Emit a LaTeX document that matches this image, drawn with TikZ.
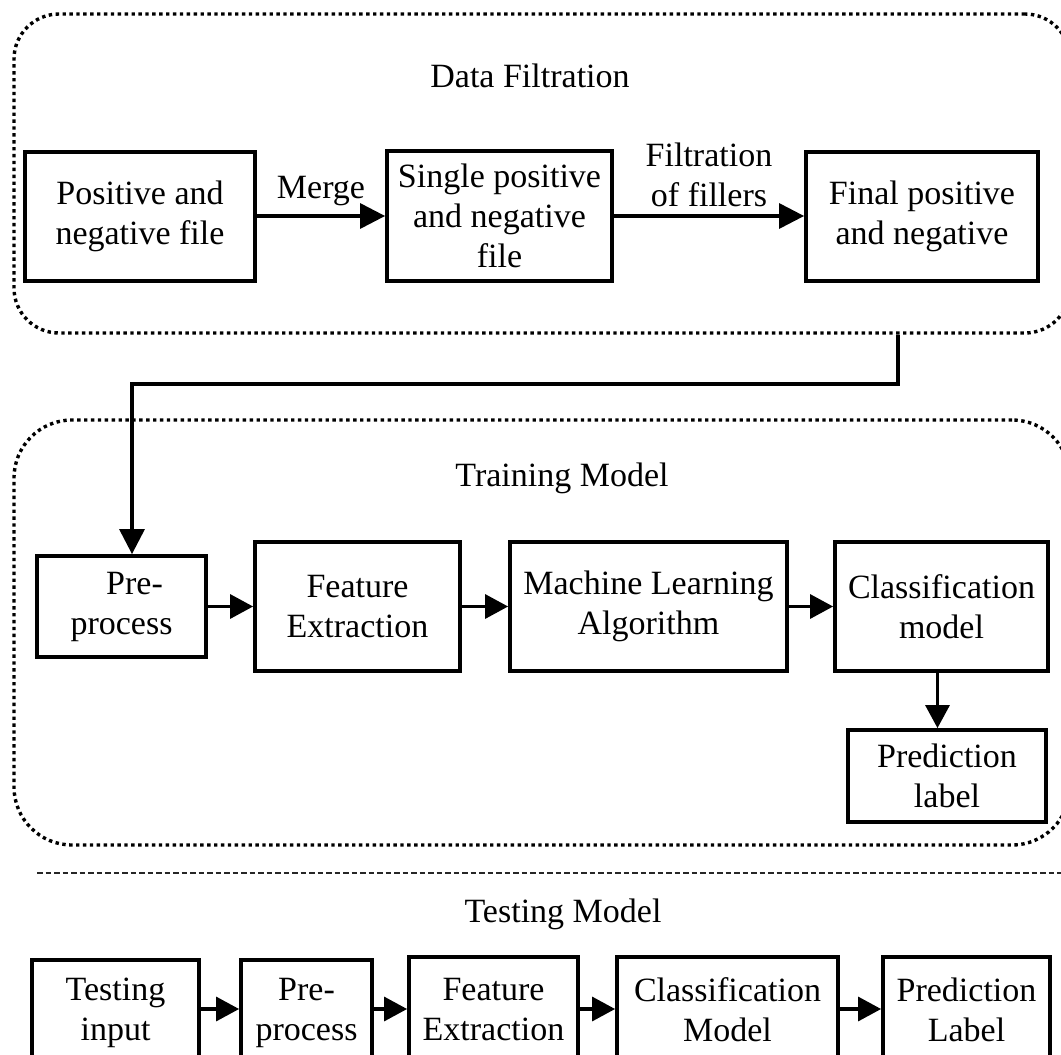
\documentclass[tikz,border=0pt]{standalone}
\usepackage{fontspec}
\setmainfont{Liberation Serif}
\usetikzlibrary{arrows.meta}
\begin{document}
\begin{tikzpicture}[x=1pt,y=-1pt,
  txt/.style={font=\fontsize{34}{40}\selectfont, inner sep=0pt, align=center},
  box/.style={txt, draw, line width=3.8pt},
  group/.style={draw, line width=3.4pt, dash pattern=on 3.4pt off 3.5pt, inner sep=0pt},
  arr/.style={line width=3.2pt, -{Triangle[length=25pt,width=25pt]}},
  sarr/.style={line width=3.2pt, -{Triangle[length=23pt,width=24pt]}},
  sep/.style={line width=1.2pt, dash pattern=on 5.5pt off 3pt, black!85}
]
\useasboundingbox (0,0) rectangle (1061,1055);
\clip (0,0) rectangle (1061,1055);

% ---------- Data Filtration ----------
\node[group, rounded corners=45pt, minimum width=1056pt, minimum height=319pt] (df) at (542,173.5) {};
\node[txt] (dftitle) at (530,76) {Data Filtration};
\node[box, minimum width=230pt, minimum height=129pt] (pn) at (140,216.5) {Positive and\\negative file};
\node[box, minimum width=225pt, minimum height=130pt] (single) at (499.5,216) {Single positive\\and negative\\file};
\node[box, minimum width=232pt, minimum height=129pt] (final) at (922,216.5) {Final positive\\and negative};
\draw[arr] (pn.east |- 0,216) -- (single.west |- 0,216)
  node[txt, midway, above=9pt] (merge) {Merge};
\draw[arr] (single.east |- 0,216) -- (final.west |- 0,216)
  node[txt, midway, above=8pt] (filt) {Filtration\\of fillers};

% ---------- Training Model ----------
\node[group, rounded corners=58pt, minimum width=1056pt, minimum height=425pt] (tm) at (542,632.5) {};
\node[txt] (tmtitle) at (562,478) {Training Model};
\node[box, minimum width=169pt, minimum height=101pt] (pre) at (121.5,606.5) {\hspace*{26pt}Pre-\\process};
\node[box, minimum width=205pt, minimum height=129pt] (feat) at (357.5,606.5) {Feature\\Extraction};
\node[box, minimum width=277pt, minimum height=129pt] (ml) at (648.5,606.5) {Machine Learning\\Algorithm};
\node[box, minimum width=213pt, minimum height=129pt] (cls) at (941.5,606.5) {Classification\\model};
\node[box, minimum width=198pt, minimum height=92pt] (pred) at (947,776) {Prediction\\label};
\draw[sarr] (pre) -- (feat);
\draw[sarr] (feat) -- (ml);
\draw[sarr] (ml) -- (cls);
\draw[sarr] ([xshift=-4pt]cls.south) -- ([xshift=-4pt]cls.south |- pred.north);

% link from the filtration stage into pre-processing
\coordinate (bend) at (898,384);
\draw[arr] (bend |- df.south) -- (bend) -| ([xshift=10.5pt]pre.north);

% ---------- Testing Model ----------
\coordinate (sepl) at (37,873);
\coordinate (sepr) at (1061,873);
\draw[sep] (sepl) -- (sepr);
\node[txt] (tstitle) at (563,914) {Testing Model};
\node[box, minimum width=167pt, minimum height=106pt] (tin) at (115.5,1013) {Testing\\input};
\node[box, minimum width=131pt, minimum height=106pt] (tpre) at (306.5,1013) {Pre-\\process};
\node[box, minimum width=169pt, minimum height=106pt] (tfeat) at (493.5,1010) {Feature\\Extraction};
\node[box, minimum width=221pt, minimum height=106pt] (tcls) at (727.5,1010) {Classification\\Model};
\node[box, minimum width=167pt, minimum height=106pt] (tpred) at (966.5,1010) {Prediction\\Label};
\draw[sarr] (tin.east |- 0,1009) -- (tpre.west |- 0,1009);
\draw[sarr] (tpre.east |- 0,1009) -- (tfeat.west |- 0,1009);
\draw[sarr] (tfeat.east |- 0,1009) -- (tcls.west |- 0,1009);
\draw[sarr] (tcls.east |- 0,1009) -- (tpred.west |- 0,1009);
\end{tikzpicture}
\end{document}
